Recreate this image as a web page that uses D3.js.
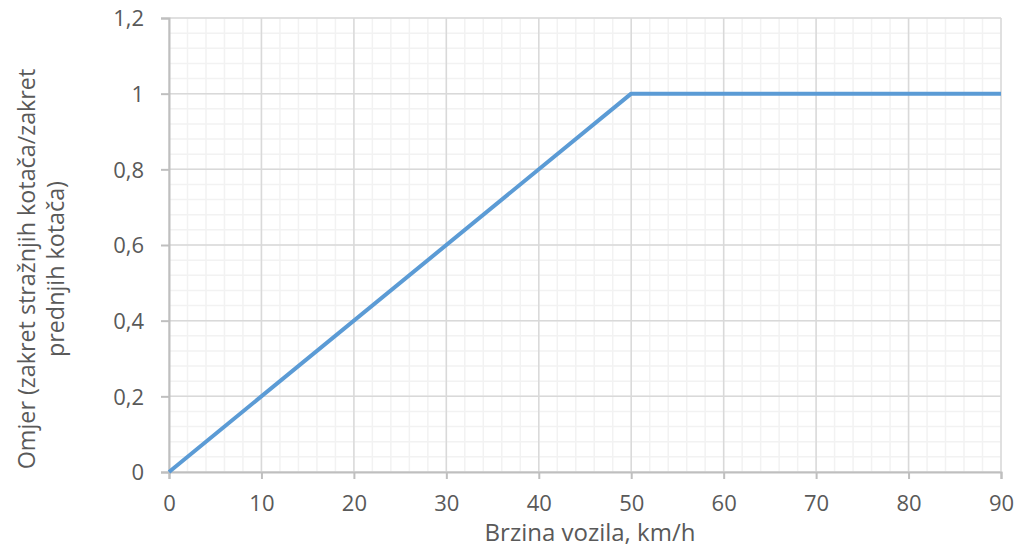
<!DOCTYPE html>
<html>
<head>
<meta charset="utf-8">
<script src="https://cdn.jsdelivr.net/npm/d3@7"></script>
<style>
  body { margin: 0; background: #fff; }
  text { font-family: "Open Sans", "Liberation Sans", sans-serif; fill: #595959; }
</style>
</head>
<body>
<div id="chart"></div>
<script>
// speed (km/h) vs ratio of rear/front wheel steering
const speeds = [0, 50, 90];
const ratios = [0, 1, 1];
const xTicks = [0, 10, 20, 30, 40, 50, 60, 70, 80, 90];
const yTicks = [0, 0.2, 0.4, 0.6, 0.8, 1, 1.2];
const xTitle = "Brzina vozila, km/h";
const yTitle = ["Omjer (zakret stražnjih kotača/zakret", "prednjih kotača)"];

var width = 1016, height = 550;
var svg = d3.select("#chart").append("svg")
    .attr("width", width)
    .attr("height", height);

var x = d3.scaleLinear().domain([0, 90]).range([169, 1001]);
var y = d3.scaleLinear().domain([0, 1.2]).range([472, 18]);

// minor grid
var minorX = d3.range(0, 90.001, 2);
var minorY = d3.range(0, 1.2001, 0.04);
svg.append("g").selectAll("line").data(minorX).join("line")
    .attr("x1", d => x(d)).attr("x2", d => x(d))
    .attr("y1", y(0)).attr("y2", y(1.2))
    .attr("stroke", "#f2f2f2").attr("stroke-width", 1.5);
svg.append("g").selectAll("line").data(minorY).join("line")
    .attr("x1", x(0)).attr("x2", x(90))
    .attr("y1", d => y(d)).attr("y2", d => y(d))
    .attr("stroke", "#f2f2f2").attr("stroke-width", 1.5);

// major grid
svg.append("g").selectAll("line").data(xTicks).join("line")
    .attr("x1", d => x(d)).attr("x2", d => x(d))
    .attr("y1", y(0)).attr("y2", y(1.2))
    .attr("stroke", "#d9d9d9").attr("stroke-width", 1.5);
svg.append("g").selectAll("line").data(yTicks).join("line")
    .attr("x1", x(0)).attr("x2", x(90))
    .attr("y1", d => y(d)).attr("y2", d => y(d))
    .attr("stroke", "#d9d9d9").attr("stroke-width", 1.5);

// axes
var fmt = d => String(+d.toFixed(1)).replace(".", ",");
var xAxis = svg.append("g")
    .attr("transform", "translate(0," + y(0) + ")")
    .call(d3.axisBottom(x).tickValues(xTicks).tickSize(7).tickPadding(18).tickFormat(d => d));
var yAxis = svg.append("g")
    .attr("transform", "translate(" + x(0) + ",0)")
    .call(d3.axisLeft(y).tickValues(yTicks).tickSize(8).tickPadding(17).tickFormat(fmt));
[xAxis, yAxis].forEach(function (a) {
    a.attr("font-size", null).attr("font-family", null);
    a.selectAll("path, line").attr("stroke", "#bfbfbf").attr("stroke-width", 2);
    a.selectAll("text").style("font-size", "22px").attr("fill", "#595959");
});
xAxis.selectAll("text").attr("dy", null).attr("y", 39);
yAxis.selectAll("text").attr("dy", "0.36em");

// data line
svg.append("path")
    .datum(speeds.map((s, i) => [s, ratios[i]]))
    .attr("fill", "none")
    .attr("stroke", "#5b9bd5")
    .attr("stroke-width", 4)
    .attr("stroke-linejoin", "round")
    .attr("d", d3.line().x(d => x(d[0])).y(d => y(d[1])));

// titles
svg.append("text")
    .attr("x", (x(0) + x(90)) / 2 + 5).attr("y", 541)
    .attr("text-anchor", "middle")
    .style("font-size", "24px")
    .text(xTitle);

var yt = svg.append("text")
    .attr("transform", "translate(35," + 269 + ") rotate(-90)")
    .attr("text-anchor", "middle")
    .style("font-size", "23.3px");
yTitle.forEach(function (t, i) {
    yt.append("tspan").attr("x", 0).attr("dy", i === 0 ? 0 : 29).text(t);
});
</script>
</body>
</html>
